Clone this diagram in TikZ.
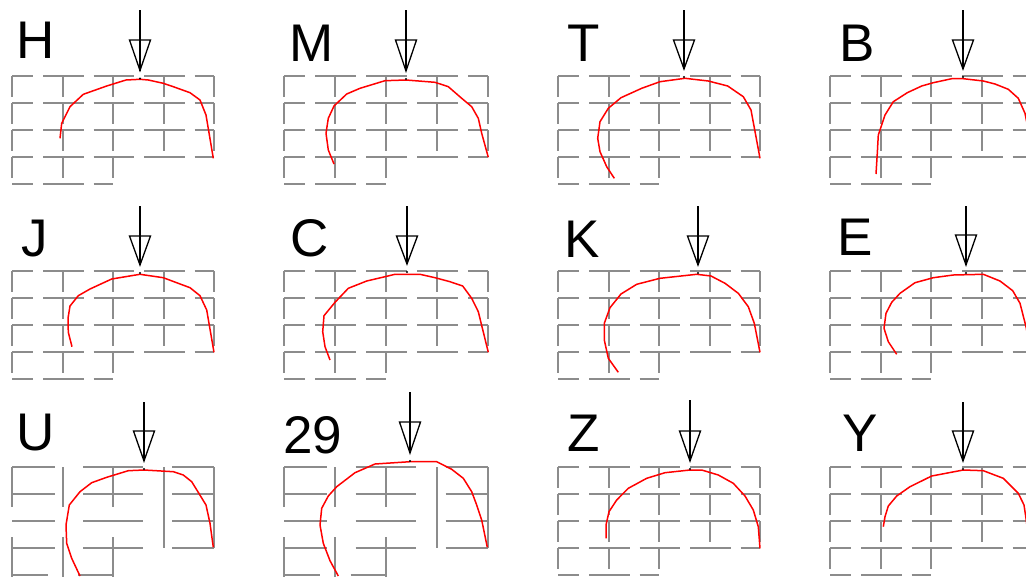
\documentclass[tikz,border=0pt]{standalone}
\usepackage{fontspec}
\setmainfont{Liberation Sans}
\definecolor{gridgray}{RGB}{140,140,140}
\newcommand\DashGrid[3]{%
 \begin{scope}[shift={(#1,#2)}]
  \foreach \r in {0,27,54,81} \foreach \c in {0,1,2,3}
    \draw[gridln] ({\c*#3/4},{\r}) -- ({(\c+1)*#3/4},{\r});
  \foreach \c in {0,1}
    \draw[gridln] ({\c*#3/4},108) -- ({(\c+1)*#3/4},108);
  \foreach \r in {0,27,54} \foreach \c in {0,...,4}
    \draw[gridln] ({\c*#3/4},{\r}) -- ({\c*#3/4},{\r+27});
  \foreach \c in {0,1,2}
    \draw[gridln] ({\c*#3/4},81) -- ({\c*#3/4},108);
 \end{scope}}
\newcommand\BrickGrid[3]{%
 \begin{scope}[shift={(#1,#2)},xscale=#3/202]
  \foreach \r in {0,27,54,81} {
    \draw[solidln] (0,\r) -- (43,\r);
    \draw[solidln] (71,\r) -- (131,\r);
    \draw[solidln] (160,\r) -- (202,\r);}
  \draw[solidln] (0,108) -- (36,108);
  \draw[solidln] (66,108) -- (100,108);
  \foreach \c in {0,1,2} {
    \draw[solidln] ({\c*50.5},0) -- ({\c*50.5},40);
    \draw[solidln] ({\c*50.5},70) -- ({\c*50.5},112);}
  \foreach \c in {3,4}
    \draw[solidln] ({\c*50.5},0) -- ({\c*50.5},81);
 \end{scope}}
\newcommand\DownArrow[5]{% name x top base tip
  \coordinate (#1-top) at (#2,#3);
  \coordinate (#1-tip) at (#2,#5);
  \coordinate (#1-bl) at ({#2-10.5},#4);
  \coordinate (#1-br) at ({#2+10.5},#4);
  \draw[shaft] (#1-top) -- (#1-tip);
  \draw[shaft] (#1-bl) -- (#1-br) -- (#1-tip) -- cycle;
  \fill ({#2},{#5+8}) circle (1.1pt);}
\begin{document}
\begin{tikzpicture}[x=1pt,y=-1pt,
  gridln/.style={draw=gridgray,line width=2pt,dash pattern=on 21pt off 10pt},
  solidln/.style={draw=gridgray,line width=2pt},
  curve/.style={draw=red,line width=1.5pt,line join=round},
  shaft/.style={draw=black,line width=1.3pt,line join=miter},
  lbl/.style={anchor=base west,inner sep=0pt,font=\fontsize{53}{53}\selectfont}]
\useasboundingbox (0,0) rectangle (1026,576);
\clip (0,0) rectangle (1026,576);
\fill[white] (0,0) rectangle (1026,576);
% grids
\DashGrid{12}{76}{202}
\DashGrid{284}{76}{204}
\DashGrid{558}{76}{202}
\DashGrid{830}{76}{202}
\DashGrid{12}{271}{202}
\DashGrid{284}{271}{204}
\DashGrid{558}{271}{202}
\DashGrid{830}{271}{202}
\BrickGrid{12}{467}{202}
\BrickGrid{284}{467}{204}
\DashGrid{558}{467}{202}
\DashGrid{830}{467}{202}
% labels
\node[lbl] (lH) at (16,58) {H};
\node[lbl] (lM) at (289,61) {M};
\node[lbl] (lT) at (567,61) {T};
\node[lbl] (lB) at (839,61) {B};
\node[lbl] (lJ) at (21,256) {J};
\node[lbl] (lC) at (290,256) {C};
\node[lbl] (lK) at (564,257) {K};
\node[lbl] (lE) at (837,255) {E};
\node[lbl] (lU) at (16,450) {U};
\node[lbl] (l29) at (283,453) {29};
\node[lbl] (lZ) at (567,451) {Z};
\node[lbl] (lY) at (842,451) {Y};
% curves
\draw[curve] (60,138.3) -- (61.7,123.3) -- (70,106.7) -- (83.3,94.3) -- (106.7,86) -- (126,80) -- (140,79.3) -- (148.3,80) -- (163.3,83.3) -- (173.3,86.7) -- (190,92.7) -- (200,100) -- (206,115) -- (213.3,158.3);
\draw[curve] (334,164) -- (328.3,150) -- (326,133.3) -- (328.3,118.3) -- (334,106) -- (346.7,94) -- (360,88.3) -- (385,80.7) -- (406,80) -- (435,82.3) -- (448.3,86.7) -- (461.7,98.3) -- (471.7,106.7) -- (478.3,118.3) -- (481.7,133.3) -- (488.3,157.3);
\draw[curve] (614.3,178.3) -- (606.7,166.7) -- (600,151.7) -- (597.7,138.3) -- (600,121.7) -- (608.3,108.3) -- (621,97.7) -- (641.7,88.3) -- (660,81.7) -- (685,78.3) -- (708.3,81) -- (727.7,86) -- (743.3,96.7) -- (751,110) -- (760,158.3);
\draw[curve] (876,174) -- (877.3,153.3) -- (878.3,135) -- (885,115) -- (893.3,101.7) -- (907.3,92.7) -- (921.7,86) -- (933.3,82.7) -- (951.7,78.7) -- (963.3,78.7) -- (983.3,81) -- (995,84) -- (1008.3,89.3) -- (1018.3,98.3) -- (1025,113.3) -- (1034,158);
\draw[curve] (72,346.7) -- (68.3,332.3) -- (68,318.3) -- (70,306) -- (78.3,295.7) -- (90,289) -- (111.7,279) -- (140,274.3) -- (163.3,277.7) -- (190,287.7) -- (200,295.7) -- (206.7,310) -- (214,352.3);
\draw[curve] (330,360) -- (325,346.7) -- (322.7,331.7) -- (324,315.7) -- (335,302.3) -- (348.3,288.3) -- (366.7,281) -- (385,276.7) -- (395,274.3) -- (420,274.3) -- (435,277.7) -- (450,281.7) -- (462.7,286) -- (471.7,298.3) -- (478.3,311.7) -- (488.3,352.3);
\draw[curve] (618.3,372.3) -- (608.3,358.3) -- (604.3,340) -- (604.3,323.3) -- (610,307.7) -- (621,294) -- (636.7,284.3) -- (660,278.3) -- (696.7,274.3) -- (711,276) -- (725,283.3) -- (738.3,293.3) -- (748.3,306.7) -- (754.3,323.3) -- (760,352.3);
\draw[curve] (896.7,354.3) -- (888.3,341.7) -- (884,328.3) -- (886,313.3) -- (891.7,302.3) -- (900,293.3) -- (915,282.7) -- (933.3,277.7) -- (953.3,275) -- (983.3,274.3) -- (1000,281) -- (1012.7,290.7) -- (1020,303.3) -- (1026,326.7) -- (1031,352);
\draw[curve] (80,576) -- (71.7,558.3) -- (66.7,543.3) -- (66,525) -- (69.3,505) -- (80,491.7) -- (91.7,482.7) -- (106.7,477.3) -- (128.3,470.7) -- (144,470) -- (173.3,471.7) -- (183.3,475) -- (191.7,481.7) -- (199.3,494) -- (206,505) -- (210,523.3) -- (213.3,547.3);
\draw[curve] (338.3,576) -- (330,560.7) -- (323.3,543.3) -- (320,525) -- (321.7,508.3) -- (328.3,496) -- (336.7,486.7) -- (355,472.7) -- (375,464) -- (410,461.7) -- (436.7,461.7) -- (451.7,469.3) -- (463.3,478.3) -- (471.7,491.7) -- (476.7,505) -- (481.7,520) -- (487.3,547.3);
\draw[curve] (606,538.3) -- (606,525) -- (609,511.7) -- (616.7,500) -- (628.3,488.3) -- (646.7,478.3) -- (665,472.7) -- (690,470) -- (701.7,470) -- (718.3,475) -- (733.3,483.3) -- (745,496) -- (753.3,510) -- (758.3,526.7) -- (760,548.3);
\draw[curve] (883.3,526.7) -- (885,516.7) -- (888.3,506) -- (896.7,496) -- (910,486.7) -- (931.7,476) -- (963.3,470) -- (983.3,470.7) -- (1003.3,478.3) -- (1018.3,493.3) -- (1024,505) -- (1026,518.3) -- (1030,548);
% arrows
\DownArrow{aH}{140}{10}{40}{70.5}
\DownArrow{aM}{406}{10}{40}{71}
\DownArrow{aT}{684}{10}{40}{69}
\DownArrow{aB}{963}{10}{40}{69}
\DownArrow{aJ}{140}{206}{236}{265}
\DownArrow{aC}{407}{206}{236}{264}
\DownArrow{aK}{698}{206}{236}{265}
\DownArrow{aE}{966}{206}{235}{265}
\DownArrow{aU}{144}{402}{431}{461}
\DownArrow{a29}{410}{392}{422}{453}
\DownArrow{aZ}{690}{400}{431}{461}
\DownArrow{aY}{963}{402}{431}{461}
\end{tikzpicture}
\end{document}
